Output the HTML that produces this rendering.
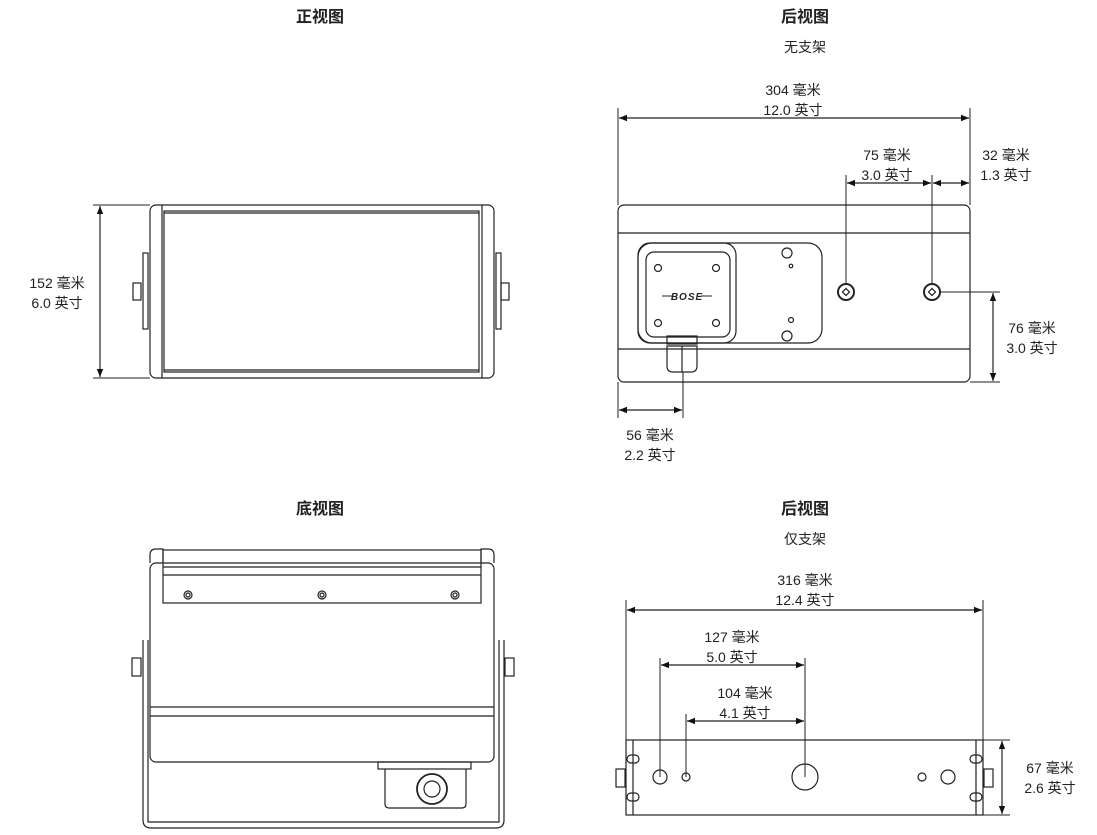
<!DOCTYPE html>
<html><head><meta charset="utf-8"><style>
html,body{margin:0;padding:0;background:#fff;}
svg{display:block;}
text{font-family:"Liberation Sans","Noto Sans CJK SC",sans-serif;font-size:14px;fill:#222;text-anchor:middle;}
.t{font-size:16px;font-weight:bold;}
.s{font-size:14px;}
</style></head><body>
<svg width="1097" height="835" viewBox="0 0 1097 835" xmlns="http://www.w3.org/2000/svg">
<defs>
<marker id="a" viewBox="0 0 10 10" refX="10" refY="5" markerWidth="10" markerHeight="8" orient="auto-start-reverse" markerUnits="userSpaceOnUse"><path d="M0,1 L10,5 L0,9 z" fill="#111"/></marker>
</defs>
<g fill="none" stroke="#222" stroke-width="1.2">
<!-- FRONT VIEW -->
<rect x="150" y="205" width="344" height="173" rx="6"/>
<line x1="162" y1="205" x2="162" y2="378"/><line x1="482" y1="205" x2="482" y2="378"/>
<rect x="164" y="211" width="315" height="161"/>
<line x1="164" y1="213" x2="479" y2="213"/><line x1="164" y1="370" x2="479" y2="370"/>
<rect x="143" y="253" width="5" height="76"/><rect x="133" y="283" width="8" height="17"/>
<rect x="496" y="253" width="5" height="76"/><rect x="501" y="283" width="8" height="17"/>
<line x1="93" y1="205" x2="150" y2="205" stroke-width="1"/><line x1="93" y1="378" x2="150" y2="378" stroke-width="1"/>
<line x1="100" y1="206" x2="100" y2="377" marker-start="url(#a)" marker-end="url(#a)"/>

<!-- REAR VIEW TOP -->
<rect x="618" y="205" width="352" height="177" rx="6"/>
<line x1="618" y1="233" x2="970" y2="233"/><line x1="618" y1="349" x2="970" y2="349"/>
<rect x="638" y="243" width="184" height="100" rx="14"/>
<rect x="638" y="243" width="98" height="100" rx="12"/>
<rect x="646" y="252" width="84" height="85" rx="8"/>
<circle cx="658" cy="268" r="3.5"/><circle cx="716" cy="268" r="3.5"/><circle cx="658" cy="323" r="3.5"/><circle cx="716" cy="323" r="3.5"/>
<circle cx="787" cy="253" r="5"/><circle cx="791" cy="266" r="1.8"/><circle cx="791" cy="320" r="2.5"/><circle cx="787" cy="336" r="5"/>
<circle cx="846" cy="292" r="8" stroke-width="2"/><rect x="843.5" y="289.5" width="5" height="5" transform="rotate(45 846 292)"/>
<circle cx="932" cy="292" r="8" stroke-width="2"/><rect x="929.5" y="289.5" width="5" height="5" transform="rotate(45 932 292)"/>
<rect x="667" y="336" width="30" height="8"/><path d="M667,346 L667,366 Q667,372 673,372 L691,372 Q697,372 697,366 L697,346 Z"/>
<line x1="682" y1="346" x2="682" y2="372"/>
<!-- dims -->
<line x1="618" y1="108" x2="618" y2="205" stroke-width="1"/><line x1="970" y1="108" x2="970" y2="205" stroke-width="1"/>
<line x1="619" y1="118" x2="969" y2="118" marker-start="url(#a)" marker-end="url(#a)"/>
<line x1="846" y1="175" x2="846" y2="284" stroke-width="1"/><line x1="932" y1="175" x2="932" y2="284" stroke-width="1"/>
<line x1="847" y1="183" x2="931" y2="183" marker-start="url(#a)" marker-end="url(#a)"/>
<line x1="933" y1="183" x2="969" y2="183" marker-start="url(#a)" marker-end="url(#a)"/>
<line x1="940" y1="292" x2="1000" y2="292" stroke-width="1"/><line x1="970" y1="382" x2="1000" y2="382" stroke-width="1"/>
<line x1="993" y1="293" x2="993" y2="381" marker-start="url(#a)" marker-end="url(#a)"/>
<line x1="618" y1="382" x2="618" y2="418" stroke-width="1"/><line x1="683" y1="372" x2="683" y2="418" stroke-width="1"/>
<line x1="619" y1="410" x2="682" y2="410" marker-start="url(#a)" marker-end="url(#a)"/>

<!-- BOTTOM VIEW -->
<path d="M143,640 L143,820 Q143,828 151,828 L496,828 Q504,828 504,820 L504,640"/>
<path d="M148,640 L148,822 L499,822 L499,640"/>
<rect x="150" y="563" width="344" height="199" rx="6"/>
<path d="M150,563 L150,555 Q150,549 156,549 L163,549 L163,563"/>
<path d="M481,563 L481,549 L488,549 Q494,549 494,555 L494,563"/>
<rect x="163" y="550" width="318" height="53"/>
<line x1="163" y1="567" x2="481" y2="567"/><line x1="163" y1="575" x2="481" y2="575"/>
<circle cx="188" cy="595" r="4"/><circle cx="188" cy="595" r="2"/>
<circle cx="322" cy="595" r="4"/><circle cx="322" cy="595" r="2"/>
<circle cx="455" cy="595" r="4"/><circle cx="455" cy="595" r="2"/>
<line x1="150" y1="707" x2="494" y2="707"/><line x1="150" y1="716" x2="494" y2="716"/>
<rect x="132" y="658" width="9" height="18"/><rect x="505" y="658" width="9" height="18"/>
<rect x="378" y="762" width="93" height="7"/>
<path d="M385,769 L385,804 Q385,808 389,808 L462,808 Q466,808 466,804 L466,769"/>
<circle cx="432" cy="789" r="15" stroke-width="1.8"/><circle cx="432" cy="789" r="8"/>

<!-- REAR VIEW BOTTOM -->
<rect x="626" y="740" width="357" height="75"/>
<line x1="633" y1="740" x2="633" y2="815"/><line x1="976" y1="740" x2="976" y2="815"/>
<rect x="627" y="755" width="12" height="8" rx="4"/><rect x="627" y="793" width="12" height="8" rx="4"/>
<rect x="970" y="755" width="12" height="8" rx="4"/><rect x="970" y="793" width="12" height="8" rx="4"/>
<rect x="616" y="769" width="9" height="18"/><rect x="984" y="769" width="9" height="18"/>
<circle cx="660" cy="777" r="7"/><circle cx="686" cy="777" r="4"/><circle cx="805" cy="777" r="13"/>
<circle cx="922" cy="777" r="4"/><circle cx="948" cy="777" r="7"/>
<line x1="626" y1="600" x2="626" y2="740" stroke-width="1"/><line x1="983" y1="600" x2="983" y2="740" stroke-width="1"/>
<line x1="627" y1="610" x2="982" y2="610" marker-start="url(#a)" marker-end="url(#a)"/>
<line x1="660" y1="658" x2="660" y2="777" stroke-width="1"/><line x1="805" y1="658" x2="805" y2="777" stroke-width="1"/>
<line x1="686" y1="714" x2="686" y2="777" stroke-width="1"/>
<line x1="661" y1="665" x2="804" y2="665" marker-start="url(#a)" marker-end="url(#a)"/>
<line x1="687" y1="721" x2="804" y2="721" marker-start="url(#a)" marker-end="url(#a)"/>
<line x1="983" y1="740" x2="1010" y2="740" stroke-width="1"/><line x1="983" y1="815" x2="1010" y2="815" stroke-width="1"/>
<line x1="1002" y1="741" x2="1002" y2="814" marker-start="url(#a)" marker-end="url(#a)"/>
</g>
<text x="687" y="300" style="font-size:10px;font-weight:bold;font-style:italic;letter-spacing:1px">BOSE</text>
<line x1="662" y1="296" x2="673" y2="296" stroke="#222"/><line x1="701" y1="296" x2="712" y2="296" stroke="#222"/>

<text class="t" x="320" y="22">正视图</text>
<text class="t" x="805" y="22">后视图</text>
<text x="805" y="52">无支架</text>
<text class="t" x="320" y="514">底视图</text>
<text class="t" x="805" y="514">后视图</text>
<text x="805" y="544">仅支架</text>

<text x="57" y="288">152 毫米</text><text x="57" y="308">6.0 英寸</text>
<text x="793" y="95">304 毫米</text><text x="793" y="115">12.0 英寸</text>
<text x="887" y="160">75 毫米</text><text x="887" y="180">3.0 英寸</text>
<text x="1006" y="160">32 毫米</text><text x="1006" y="180">1.3 英寸</text>
<text x="1032" y="333">76 毫米</text><text x="1032" y="353">3.0 英寸</text>
<text x="650" y="440">56 毫米</text><text x="650" y="460">2.2 英寸</text>
<text x="805" y="585">316 毫米</text><text x="805" y="605">12.4 英寸</text>
<text x="732" y="642">127 毫米</text><text x="732" y="662">5.0 英寸</text>
<text x="745" y="698">104 毫米</text><text x="745" y="718">4.1 英寸</text>
<text x="1050" y="773">67 毫米</text><text x="1050" y="793">2.6 英寸</text>
</svg>
</body></html>
